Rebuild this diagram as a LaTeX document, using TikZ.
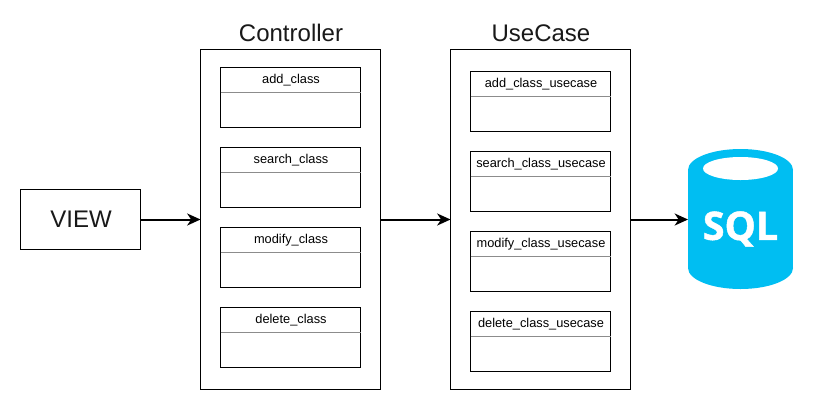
\documentclass[tikz,border=0pt]{standalone}
\usepackage{fontspec}
\setmainfont{Liberation Sans}
\newfontfamily\sqlfont{Open Sans}[BoldFeatures={FakeBold=1.2}]
\usetikzlibrary{arrows.meta}
\definecolor{sqlblue}{HTML}{00BEF2}
\tikzset{
  outerbox/.style={draw=black,line width=0.75pt,fill=white,minimum width=135pt,minimum height=255pt,outer sep=0pt,inner sep=0pt},
  viewbox/.style={draw=black,line width=0.75pt,fill=white,minimum width=90pt,minimum height=45pt,outer sep=0pt,inner sep=0pt,font=\fontsize{18}{20}\selectfont,text=black!90},
  classbox/.style={draw=black,line width=0.75pt,fill=white,minimum width=105pt,minimum height=45pt,outer sep=0pt,inner sep=0pt},
  titlelabel/.style={font=\fontsize{18}{20}\selectfont,inner sep=0pt,text=black!90},
  classlabel/.style={font=\fontsize{9.6}{11}\selectfont,inner sep=0pt,text=black},
  divider/.style={draw=black!45,line width=0.75pt},
  flow/.style={draw=black,line width=1.5pt,-{Stealth[length=10pt,width=9pt,inset=3pt]}},
  sqlnode/.style={minimum width=78.75pt,minimum height=105pt,inner sep=0pt,outer sep=0pt}
}
\newcommand{\classitem}[4]{%
  \node[classbox] (#1) at (#2,#3) {};
  \node[classlabel] (#1t) at (#2+0.5,#3-17) {#4};
  \draw[divider] ([yshift=-18.75pt]#1.north west) -- ([yshift=-18.75pt]#1.north east);
}
\begin{document}
\begin{tikzpicture}[x=0.75pt,y=-0.75pt]
\useasboundingbox (0,0) rectangle (814,411);
\fill[white] (0,0) rectangle (814,411);

\node[viewbox] (view) at (80.5,219.5) {\hspace{0.75pt}VIEW};

\node[outerbox] (ctrl) at (290.5,219.5) {};
\node[titlelabel] (ctrlt) at (291,33) {Controller};
\classitem{addc}{290.5}{97.5}{add\_class}
\classitem{searchc}{290.5}{177.5}{search\_class}
\classitem{modc}{290.5}{257.5}{modify\_class}
\classitem{delc}{290.5}{337.5}{delete\_class}

\node[outerbox] (uc) at (540.5,219.5) {};
\node[titlelabel] (uct) at (541,33) {UseCase};
\classitem{addu}{540.5}{101.5}{add\_class\_usecase}
\classitem{searchu}{540.5}{181.5}{search\_class\_usecase}
\classitem{modu}{540.5}{261.5}{modify\_class\_usecase}
\classitem{delu}{540.5}{341.5}{delete\_class\_usecase}

\fill[sqlblue] (740.5,170) ellipse [x radius=52.5,y radius=21];
\fill[sqlblue] (740.5,268) ellipse [x radius=52.5,y radius=21];
\fill[sqlblue] (688,170) rectangle (793,268);
\fill[white] (740.5,168.5) ellipse [x radius=37.5,y radius=11.5];
\node[sqlnode] (sql) at (740.5,219.5) {};
\node[inner sep=0pt,text=white,font=\sqlfont\bfseries\fontsize{29.5}{30}\selectfont] (sqlt) at (740.5,229) {SQL};

\draw[flow] (view) -- (ctrl);
\draw[flow] (ctrl) -- (uc);
\draw[flow] (uc) -- (sql);
\end{tikzpicture}
\end{document}
